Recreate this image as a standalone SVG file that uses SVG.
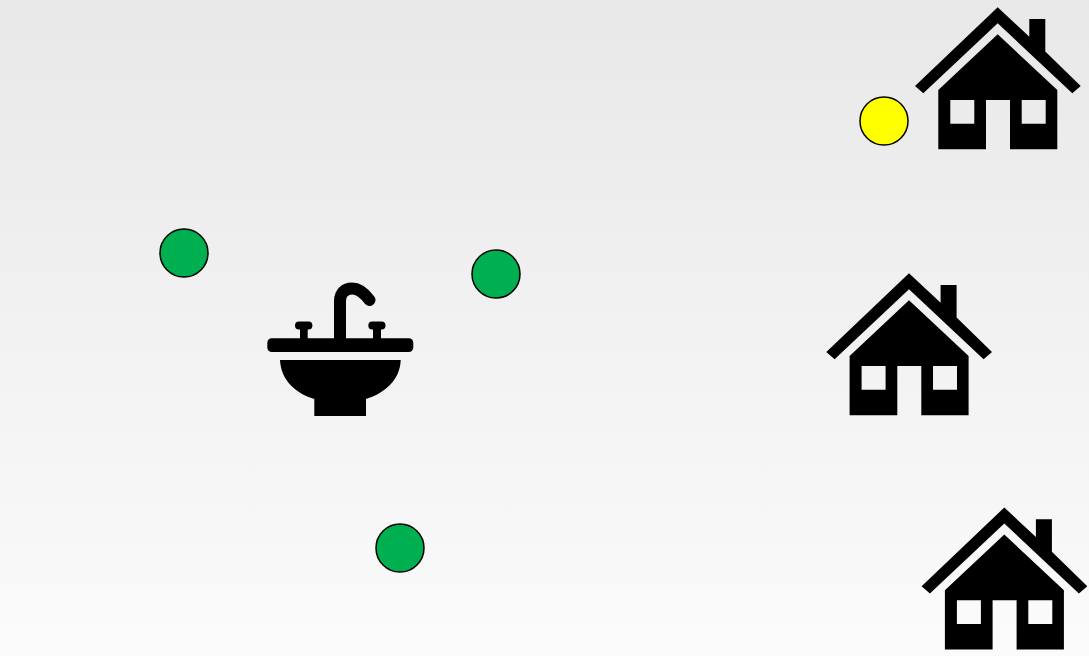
<svg xmlns="http://www.w3.org/2000/svg" width="1089" height="656" viewBox="0 0 1089 656">
<style>
.dot{stroke:#000;stroke-width:1.5}
.green{fill:#00b050}
.yellow{fill:#ffff00}
</style>
<defs>
<linearGradient id="bg" x1="0" y1="0" x2="0" y2="1"><stop offset="0" stop-color="#e8e8e8"/><stop offset="1" stop-color="#fbfbfb"/></linearGradient>
<g id="house">
<path d="M0 0L31.6 29.4V11.7H47.6V44.3L83 78.7L74.6 86L0 16L-74.4 86L-82.7 78.7Z"/>
<path fill-rule="evenodd" d="M0 27L59.6 82.7V142H12.3V92.7H-11.7V142H-59.4V82.7ZM-47.4 92.7V116.4H-23.4V92.7ZM24 92.7V116.4H48V92.7Z"/>
</g>
</defs>
<rect id="background" width="1089" height="656" fill="url(#bg)"/>
<g id="house-1"><use href="#house" x="997.7" y="7.3"/></g>
<g id="house-2"><use href="#house" x="909" y="273.3"/></g>
<g id="house-3"><use href="#house" x="1004.3" y="507.5"/></g>
<g id="sink">
<rect x="267.3" y="338.3" width="146" height="13.7" rx="4.5"/>
<path d="M280 360H400.7C400 380 385 393 366 399V416H314.3V399C295 393 281 380 280 360Z"/>
<path d="M340 340V301C340 293 345 288.5 352 288.5C360 288.5 365 294 369.5 300" fill="none" stroke="#000" stroke-width="12" stroke-linecap="round"/>
<rect x="334" y="325" width="12" height="15"/>
<rect x="300" y="325" width="7.7" height="14"/>
<rect x="373" y="325" width="8" height="14"/>
<rect x="295" y="321.6" width="17.4" height="7.8" rx="3.9"/>
<rect x="368.3" y="321.6" width="17.2" height="7.8" rx="3.9"/>
</g>
<g id="dot-yellow"><circle class="dot yellow" cx="884" cy="121" r="24"/></g>
<g id="dot-green-1"><circle class="dot green" cx="184" cy="253" r="24"/></g>
<g id="dot-green-2"><circle class="dot green" cx="496" cy="274" r="24"/></g>
<g id="dot-green-3"><circle class="dot green" cx="400" cy="548" r="24"/></g>
</svg>
